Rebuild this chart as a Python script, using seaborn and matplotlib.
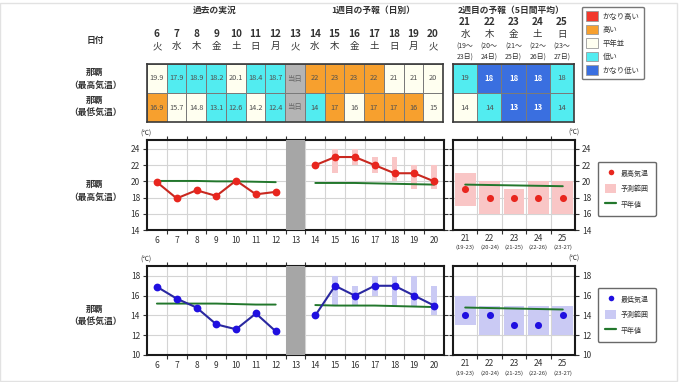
import numpy as np
import pandas as pd
import matplotlib
matplotlib.use("Agg")
import matplotlib.pyplot as plt
import seaborn as sns
from matplotlib.colors import ListedColormap
from matplotlib.patches import Patch, Rectangle
from matplotlib.lines import Line2D
from matplotlib.ticker import FixedLocator
from matplotlib.transforms import blended_transform_factory

# ---------------- data ----------------
days_w1 = [6, 7, 8, 9, 10, 11, 12, 13, 14, 15, 16, 17, 18, 19, 20]
weekdays_w1 = ["火", "水", "木", "金", "土", "日", "月", "火", "水", "木", "金", "土", "日", "月", "火"]
days_w2 = [21, 22, 23, 24, 25]
weekdays_w2 = ["水", "木", "金", "土", "日"]
period_start = [19, 20, 21, 22, 23]
period_end = [23, 24, 25, 26, 27]
today_label = "当日"
today_day = 13

class_names = ["かなり高い", "高い", "平年並", "低い", "かなり低い"]
class_colors = ["#f2382c", "#f7a02e", "#fffff0", "#52ecf0", "#3a6fe0"]
today_color = "#b4b4b4"

max_text_w1 = ["19.9", "17.9", "18.9", "18.2", "20.1", "18.4", "18.7", today_label,
               "22", "23", "23", "22", "21", "21", "20"]
max_cls_w1 = [2, 3, 3, 3, 2, 3, 3, 5, 1, 1, 1, 1, 2, 2, 2]
min_text_w1 = ["16.9", "15.7", "14.8", "13.1", "12.6", "14.2", "12.4", today_label,
               "14", "17", "16", "17", "17", "16", "15"]
min_cls_w1 = [1, 2, 2, 3, 3, 2, 3, 5, 3, 1, 2, 1, 1, 1, 2]
max_text_w2 = ["19", "18", "18", "18", "18"]
max_cls_w2 = [3, 4, 4, 4, 3]
min_text_w2 = ["14", "14", "13", "13", "14"]
min_cls_w2 = [2, 3, 4, 4, 3]

obs_days = [6, 7, 8, 9, 10, 11, 12]
fc_days = [14, 15, 16, 17, 18, 19, 20]

max_obs = [19.9, 17.9, 18.9, 18.2, 20.1, 18.4, 18.7]
max_fc = [22, 23, 23, 22, 21, 21, 20]
max_fc_lo = [np.nan, 21, 22, 21, 20, 19, 19]
max_fc_hi = [np.nan, 24, 24, 23, 23, 22, 22]
max_norm_obs = [20.05, 20.05, 20.05, 20.0, 20.0, 19.95, 19.9]
max_norm_fc = [19.8, 19.8, 19.8, 19.75, 19.7, 19.65, 19.6]
max_w2 = [19, 18, 18, 18, 18]
max_w2_lo = [17, 16, 16, 16, 16]
max_w2_hi = [21, 20, 19, 20, 20]
max_norm_w2 = [19.6, 19.55, 19.5, 19.45, 19.4]

min_obs = [16.9, 15.7, 14.8, 13.1, 12.6, 14.2, 12.4]
min_fc = [14, 17, 16, 17, 17, 16, 15]
min_fc_lo = [np.nan, 15, 15, 16, 15, 15, 14]
min_fc_hi = [np.nan, 18, 17, 18, 18, 18, 17]
min_norm_obs = [15.2, 15.2, 15.2, 15.2, 15.15, 15.1, 15.1]
min_norm_fc = [15.05, 15.0, 15.0, 15.0, 14.95, 14.9, 14.85]
min_w2 = [14, 14, 13, 13, 14]
min_w2_lo = [13, 12, 12, 12, 12]
min_w2_hi = [16, 15, 15, 15, 15]
min_norm_w2 = [14.8, 14.75, 14.7, 14.65, 14.6]

city = "那覇"
lbl_max = "（最高気温）"
lbl_min = "（最低気温）"

# ---------------- style ----------------
sns.set_theme(style="white")
plt.rcParams["font.family"] = ["Noto Sans CJK JP", "DejaVu Sans"]
plt.rcParams["axes.linewidth"] = 1.5

W, H = 680, 382
fig = plt.figure(figsize=(W / 100, H / 100), dpi=100)
fig.patch.set_facecolor("white")


def rect(l, t, r, b):
    return [l / W, 1 - b / H, (r - l) / W, (b - t) / H]


def ftext(x, y, s, **kw):
    kw.setdefault("ha", "center")
    kw.setdefault("va", "center")
    kw.setdefault("color", "#333333")
    return fig.text(x / W, 1 - y / H, s, **kw)


TXT = "#333333"
GREEN = "#22772c"

# ---------------- tables ----------------
cmap = ListedColormap(class_colors + [today_color])


def draw_table(ax, codes, texts, fs):
    data = np.array(codes)
    annot = np.array(texts)
    sns.heatmap(data, ax=ax, cmap=cmap, vmin=-0.5, vmax=5.5, cbar=False,
                annot=annot, fmt="", linewidths=0.7, linecolor="#7a7a7a",
                annot_kws={"fontsize": fs, "color": "#505050"},
                xticklabels=False, yticklabels=False)
    flat = data.flatten()
    for t, c in zip(ax.texts, flat):
        if c == 4:
            t.set_color("white")
            t.set_fontweight("bold")
        elif c == 5:
            t.set_color("#666666")
    for sp in ax.spines.values():
        sp.set_visible(True)
        sp.set_color("#3a3a3a")
        sp.set_linewidth(1.2)
    ax.tick_params(left=False, bottom=False)
    ax.set_xlabel("")
    ax.set_ylabel("")


tab1 = fig.add_axes(rect(147, 64, 443, 122))
draw_table(tab1, [max_cls_w1, min_cls_w1], [max_text_w1, min_text_w1], 5.3)
tab2 = fig.add_axes(rect(453, 64, 574, 122))
draw_table(tab2, [max_cls_w2, min_cls_w2], [max_text_w2, min_text_w2], 5.6)

tr1 = blended_transform_factory(tab1.transData, fig.transFigure)
for i, (d, wd) in enumerate(zip(days_w1, weekdays_w1)):
    tab1.text(i + 0.5, 1 - 34 / H, str(d), transform=tr1, ha="center", va="center",
              fontsize=7.2, fontweight="bold", color=TXT)
    tab1.text(i + 0.5, 1 - 46.5 / H, wd, transform=tr1, ha="center", va="center",
              fontsize=6.8, color=TXT)
tr2 = blended_transform_factory(tab2.transData, fig.transFigure)
for i, (d, wd, ps, pe) in enumerate(zip(days_w2, weekdays_w2, period_start, period_end)):
    tab2.text(i + 0.5, 1 - 22 / H, str(d), transform=tr2, ha="center", va="center",
              fontsize=7.2, fontweight="bold", color=TXT)
    tab2.text(i + 0.5, 1 - 34.5 / H, wd, transform=tr2, ha="center", va="center",
              fontsize=6.8, color=TXT)
    tab2.text(i + 0.5, 1 - 46.5 / H, f"({ps}〜", transform=tr2, ha="center", va="center",
              fontsize=5.0, color=TXT)
    tab2.text(i + 0.5, 1 - 58 / H, f"{pe}日)", transform=tr2, ha="center", va="center",
              fontsize=5.0, color=TXT)

ftext(215, 10, "過去の実況", fontsize=6.3, fontweight="bold")
ftext(373, 10, "1週目の予報（日別）", fontsize=6.3, fontweight="bold")
ftext(511, 10, "2週目の予報（5日間平均）", fontsize=6.3, fontweight="bold")
ftext(95, 40, "日付", fontsize=6.3, fontweight="bold")
ftext(95, 72, city, fontsize=6.3, fontweight="bold")
ftext(95, 85, lbl_max, fontsize=6.3, fontweight="bold")
ftext(95, 100, city, fontsize=6.3, fontweight="bold")
ftext(95, 113, lbl_min, fontsize=6.3, fontweight="bold")

cls_handles = [Patch(facecolor=c, edgecolor="#9a9a9a", linewidth=0.6) for c in class_colors]
leg0 = fig.legend(cls_handles, class_names, loc="upper left",
                  bbox_to_anchor=(582 / W, 1 - 7 / H), frameon=True, fancybox=True,
                  fontsize=5.3, handlelength=1.6, handleheight=1.6, labelspacing=0.55,
                  borderpad=0.6, handletextpad=0.6, borderaxespad=0, edgecolor="#555555")
leg0.get_frame().set_linewidth(1.0)
for t in leg0.get_texts():
    t.set_color(TXT)


# ---------------- charts ----------------
def style_axes(ax, xs, ylim, yticks, right_labels):
    ax.set_xlim(xs[0] - 0.5, xs[-1] + 0.5)
    ax.set_ylim(*ylim)
    ax.xaxis.set_major_locator(FixedLocator(xs))
    ax.xaxis.set_minor_locator(FixedLocator([x + 0.5 for x in xs[:-1]]))
    ax.set_xticklabels([str(x) for x in xs])
    ax.set_yticks(yticks)
    ax.grid(False)
    ax.grid(which="minor", axis="x", color="#d4d4d4", linewidth=0.8, zorder=0)
    ax.grid(which="major", axis="y", color="#d4d4d4", linewidth=0.8, zorder=0)
    ax.set_axisbelow(True)
    ax.tick_params(axis="x", which="major", length=0, labelsize=6, pad=4, colors=TXT)
    ax.tick_params(axis="x", which="minor", length=3, width=0.8, bottom=True, top=True,
                   direction="out", color="#333333")
    ax.tick_params(axis="y", which="major", length=3, width=0.8, left=True, right=True,
                   direction="out", labelsize=6, colors=TXT, pad=2,
                   labelleft=not right_labels, labelright=right_labels)
    ax.tick_params(axis="y", which="major", color="#333333")
    for sp in ax.spines.values():
        sp.set_visible(True)
        sp.set_color("#1a1a1a")
        sp.set_linewidth(1.5)
    ax.set_xlabel("")
    ax.set_ylabel("")


def chart(top, bottom, obs, fc, fc_lo, fc_hi, norm_o, norm_f, w2, w2_lo, w2_hi, norm_w2,
          line_c, mk_c, rng_c, ylim, yticks, lbl, obs_name, sub_y_num):
    ax1 = fig.add_axes(rect(147, top, 444, bottom))
    ax2 = fig.add_axes(rect(453, top, 575, bottom))

    lo = np.array(fc_lo, dtype=float)
    hi = np.array(fc_hi, dtype=float)
    ax1.bar(fc_days, hi - lo, bottom=lo, width=0.3, color=rng_c, zorder=2, linewidth=0)
    ax1.axvspan(today_day - 0.5, today_day + 0.5, color="#a6a6a6", zorder=3, linewidth=0)
    sns.lineplot(x=obs_days, y=norm_o, ax=ax1, color=GREEN, linewidth=1.4, zorder=4)
    sns.lineplot(x=fc_days, y=norm_f, ax=ax1, color=GREEN, linewidth=1.4, zorder=4)
    for xs, ys in ((obs_days, obs), (fc_days, fc)):
        sns.lineplot(x=xs, y=ys, ax=ax1, color=line_c, linewidth=1.5, marker="o",
                     markersize=5.6, markerfacecolor=mk_c, markeredgewidth=0, zorder=5)
    style_axes(ax1, days_w1, ylim, yticks, False)

    lo2 = np.array(w2_lo, dtype=float)
    hi2 = np.array(w2_hi, dtype=float)
    ax2.bar(days_w2, hi2 - lo2, bottom=lo2, width=0.86, color=rng_c, zorder=2, linewidth=0)
    sns.lineplot(x=days_w2, y=norm_w2, ax=ax2, color=GREEN, linewidth=1.4, zorder=4)
    sns.scatterplot(x=days_w2, y=w2, ax=ax2, color=mk_c, s=26, linewidth=0, zorder=5)
    style_axes(ax2, days_w2, ylim, yticks, True)
    ax2.tick_params(axis="x", which="major", pad=3)
    trx = blended_transform_factory(ax2.transData, fig.transFigure)
    for d, ps, pe in zip(days_w2, period_start, period_end):
        ax2.text(d, 1 - sub_y_num / H, f"({ps}-{pe})", transform=trx, ha="center",
                 va="center", fontsize=4.2, color=TXT)

    ftext(146, top - 6, "(℃)", fontsize=4.8)
    ftext(574, top - 7, "(℃)", fontsize=4.8)
    mid = (top + bottom) / 2
    ftext(95, mid - 1, city, fontsize=6.3, fontweight="bold")
    ftext(95, mid + 12, lbl, fontsize=6.3, fontweight="bold")

    handles = [Line2D([], [], linestyle="none", marker="o", markersize=4,
                      markerfacecolor=mk_c, markeredgewidth=0),
               Patch(facecolor=rng_c, edgecolor="none"),
               Line2D([], [], color=GREEN, linewidth=1.6)]
    leg = ax2.legend(handles, [obs_name, "予測範囲", "平年値"], loc="upper left",
                     bbox_to_anchor=(598 / W, 1 - (top + 22) / H),
                     bbox_transform=fig.transFigure, frameon=True, fancybox=True,
                     fontsize=5.0, handlelength=1.6, handleheight=1.6,
                     labelspacing=0.95, borderpad=1.0, handletextpad=0.7,
                     borderaxespad=0, edgecolor="#444444")
    leg.get_frame().set_linewidth(1.0)
    for t in leg.get_texts():
        t.set_color(TXT)
    return ax1, ax2


chart(140, 230, max_obs, max_fc, max_fc_lo, max_fc_hi, max_norm_obs, max_norm_fc,
      max_w2, max_w2_lo, max_w2_hi, max_norm_w2,
      "#c8281f", "#e8261e", "#f9c6c6", (14, 25.1), [14, 16, 18, 20, 22, 24],
      lbl_max, "最高気温", 247)
chart(266, 355, min_obs, min_fc, min_fc_lo, min_fc_hi, min_norm_obs, min_norm_fc,
      min_w2, min_w2_lo, min_w2_hi, min_norm_w2,
      "#2a28a0", "#2010e0", "#cacaf4", (10, 19.0), [10, 12, 14, 16, 18],
      lbl_min, "最低気温", 373)

fig.patches.append(Rectangle((0, 1 / H), 677 / W, 378 / H, transform=fig.transFigure,
                             fill=False, edgecolor="#e2e2e2", linewidth=1.0))

fig.savefig("out.png", dpi=100)
